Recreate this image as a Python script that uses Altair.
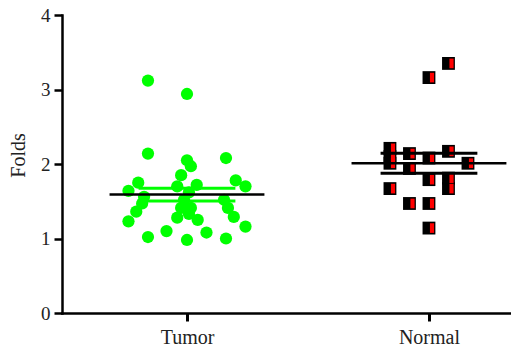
import altair as alt
import pandas as pd

groups = ["Tumor", "Normal"]
group_pos = [1, 2]

tumor_values = [3.12, 2.94, 2.14, 2.05, 1.97, 2.08, 1.85, 1.75, 1.64, 1.78, 1.70,
                1.70, 1.72, 1.56, 1.47, 1.36, 1.23, 1.52, 1.41, 1.41, 1.28, 1.25,
                1.52, 1.41, 1.29, 1.16, 1.02, 1.10, 0.98, 1.08, 1.00, 1.62, 1.33]
tumor_cols = [-2, 0, -2, 0, 0.2, 2, -0.3, -2.5, -3, 2.5, 3,
              -0.5, 0.5, -2.2, -2.3, -2.6, -3, -0.15, -0.3, 0.2, -0.5, 0.55,
              1.9, 2.1, 2.4, 3, -2, -1.05, 0, 1, 2, 0.1, 0.1]

normal_values = [3.35, 3.16, 2.21, 2.10, 2.01, 2.14, 1.94, 2.08, 2.17, 2.01,
                 1.79, 1.81, 1.67, 1.67, 1.47, 1.47, 1.14]
normal_cols = [1, 0, -2, -2, -2, -1, -1, 0, 1, 2, 0, 1, 1, -2, -1, 0, 0]

y_ticks = [0, 1, 2, 3, 4]

rows = []
for v, c in zip(tumor_values, tumor_cols):
    rows.append({"group": "Tumor", "grp": 1, "value": v, "col": c})
for v, c in zip(normal_values, normal_cols):
    rows.append({"group": "Normal", "grp": 2, "value": v, "col": c})
df = pd.DataFrame(rows)

SERIF = "Liberation Serif"

xscale = alt.Scale(domain=[0.4835, 2.339], nice=False, zero=False)
yscale = alt.Scale(domain=[0, 4], nice=False)

base = alt.Chart(df).transform_calculate(xj="datum.grp + datum.col * 0.0806")

x_enc = alt.X("xj:Q", scale=xscale, axis=alt.Axis(
    values=group_pos, labelExpr="datum.value == 1 ? 'Tumor' : 'Normal'",
    title=None, grid=False, domainColor="black", domainWidth=2.5,
    tickColor="black", tickWidth=3, tickSize=8, labelFont=SERIF, labelFontSize=20,
    labelColor="#222", labelPadding=6))
y_enc = alt.Y("value:Q", scale=yscale, axis=alt.Axis(
    values=y_ticks, format="d", title="Folds", grid=False, domainColor="black",
    domainWidth=2.5, tickColor="black", tickWidth=2.5, tickSize=8, labelFont=SERIF,
    labelFontSize=19, labelColor="#222", labelPadding=4, titleFont=SERIF,
    titleFontSize=20, titleFontWeight="normal", titleColor="#222", titleX=-44,
    titleY=140, titleAngle=-90, titleBaseline="middle", titleAnchor="middle",
    titleAlign="center"))

tumor_pts = base.transform_filter("datum.group == 'Tumor'").mark_circle(
    size=150, color="#00ff00", opacity=1).encode(x=x_enc, y=y_enc)

normal_sq = base.transform_filter("datum.group == 'Normal'").mark_square(
    size=165, color="black", opacity=1).encode(x="xj:Q", y="value:Q")
normal_red = base.transform_filter("datum.group == 'Normal'").mark_point(
    shape="M0.15,-0.75L0.8,-0.75L0.8,0.75L0.15,0.75Z", size=165, filled=True,
    color="#ff0000", opacity=1, strokeWidth=0).encode(x="xj:Q", y="value:Q")

stats = alt.Chart(df).transform_aggregate(
    mean="mean(value)", se="stderr(value)", groupby=["group", "grp"]
).transform_calculate(
    lo="datum.mean - datum.se", hi="datum.mean + datum.se",
    xa="datum.grp - 0.2", xb="datum.grp + 0.2",
    ma="datum.grp - 0.32", mb="datum.grp + 0.32")

col_enc = alt.Color("group:N", scale=alt.Scale(domain=groups, range=["#00ff00", "black"]),
                    legend=None)

sem_hi = stats.mark_rule(strokeWidth=3).encode(x="xa:Q", x2="xb:Q", y="hi:Q", color=col_enc)
sem_lo = stats.mark_rule(strokeWidth=3).encode(x="xa:Q", x2="xb:Q", y="lo:Q", color=col_enc)
mean_line = stats.mark_rule(strokeWidth=2.5, color="black").encode(
    x="ma:Q", x2="mb:Q", y="mean:Q")

chart = alt.layer(tumor_pts, normal_sq, normal_red, sem_hi, sem_lo, mean_line).properties(
    width=449, height=298,
    autosize=alt.AutoSizeParams(type="none"),
    padding={"left": 62, "top": 15, "right": 0, "bottom": 39},
    background="white",
).configure_view(stroke=None).configure_axis(domainCap="square")

chart.save("out.html", embed_options={"renderer": "svg", "actions": False})
